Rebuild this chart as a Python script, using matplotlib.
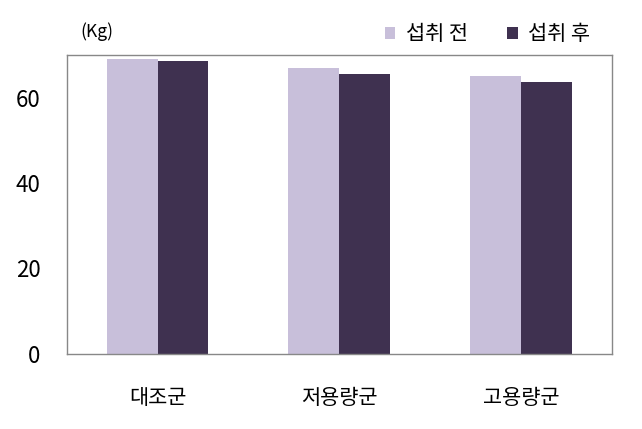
import numpy as np
import matplotlib
matplotlib.use('Agg')
import matplotlib.pyplot as plt

plt.rcParams['font.family'] = ['Noto Sans CJK KR', 'DejaVu Sans']

# data
groups = ['대조군', '저용량군', '고용량군']
before = [69.0, 67.0, 65.0]
after = [68.5, 65.5, 63.7]
series_names = ['섭취 전', '섭취 후']
yticks = [0, 20, 40, 60]

c_before = '#C8BFDA'
c_after = '#3F3150'

fig = plt.figure(figsize=(6.42, 4.29), dpi=100)
ax = fig.add_axes([0.104, 0.175, 0.849, 0.697])

x = np.arange(len(groups))
w = 0.28
ax.bar(x - w/2, before, w, color=c_before, label=series_names[0])
ax.bar(x + w/2, after, w, color=c_after, label=series_names[1])

ax.set_xlim(-0.5, len(groups) - 0.5)
ax.set_ylim(0, 70)
ax.set_yticks(yticks)
ax.set_xticks(x)
ax.set_xticklabels(groups, fontsize=15)
ax.tick_params(axis='y', length=0, pad=19, labelsize=16)
ax.tick_params(axis='x', length=0, pad=24)
for s in ax.spines.values():
    s.set_color('#888888')
    s.set_linewidth(1)

fig.text(80/642, 1 - 32/429, '(Kg)', fontsize=12.5, ha='left', va='center')
fig.legend(loc='center right', bbox_to_anchor=(590/642, 1 - 34/429), ncol=2,
           frameon=False, fontsize=15, handlelength=0.5, handleheight=0.5,
           handletextpad=0.5, columnspacing=1.9, borderpad=0, borderaxespad=0)

fig.savefig('out.png', dpi=100)
